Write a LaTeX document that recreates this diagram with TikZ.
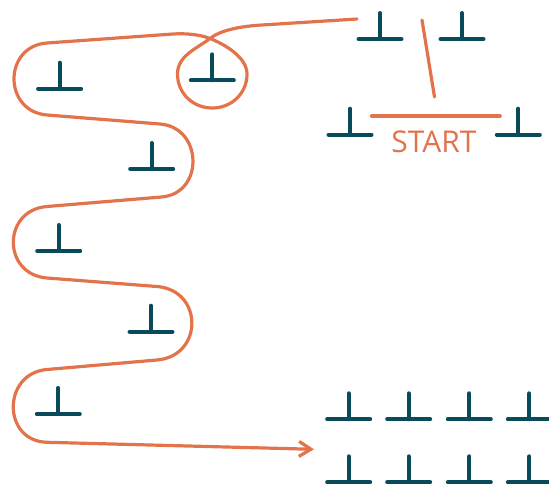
\documentclass[tikz,border=0pt]{standalone}
\usepackage{fontspec}
\setmainfont{Open Sans}
\usetikzlibrary{arrows.meta}
\definecolor{orng}{HTML}{E3734A}
\definecolor{tealdk}{HTML}{0A4B5B}
\begin{document}
\begin{tikzpicture}[x=1pt,y=-1pt,
  tackline/.style={tealdk, line width=4pt, line cap=round},
  tack/.pic={\draw[tackline] (-21.5,0) -- (21.5,0) (0,0) -- (0,-26);},
  route/.style={orng, line width=3.2pt, line cap=round, line join=round}]
\useasboundingbox (0,0) rectangle (549,484);
\clip (0,0) rectangle (549,484);
% up tacks
\pic at (380,39) {tack};
\pic at (462,39) {tack};
\pic at (350,134.7) {tack};
\pic at (518.3,134.7) {tack};
\pic at (59.6,88.7) {tack};
\pic at (212.3,80.3) {tack};
\pic at (151.7,169) {tack};
\pic at (58.7,251) {tack};
\pic at (151,331.7) {tack};
\pic at (58.3,414) {tack};
\foreach \x in {348.7,408.7,469.3,529.3}{
  \pic at (\x,419.3) {tack};
  \pic at (\x,482.3) {tack};
}
% start marker
\draw[route] (422,20) -- (434.5,97);
\draw[route] (371.5,116) -- (500.2,116);
\node[font=\fontsize{30}{30}\selectfont, text=orng, anchor=base, inner sep=0pt] (start) at (434,152.7) {START};
% route
\draw[route, -{Straight Barb[length=12pt,width=15pt]}]
  (357,19) -- (262,25)
  .. controls (245,26) and (222,29) .. (210,38.5)
  .. controls (196,49) and (177.5,56) .. (177.5,74)
  .. controls (177.5,93.5) and (193,108) .. (212.3,108)
  .. controls (231.5,108) and (247,93.5) .. (247,74)
  .. controls (247,57) and (224,44) .. (210,38.5)
  .. controls (200,34.5) and (186,33.2) .. (173,34)
  -- (47,43)
  .. controls (3,46.1) and (3,111.5) .. (47,115)
  -- (160,124)
  .. controls (203,127.4) and (204.4,193.5) .. (161.5,197)
  -- (47,206.5)
  .. controls (2.1,210.1) and (2.1,274.5) .. (47,278)
  -- (157,286.5)
  .. controls (203.5,290.2) and (203.5,356.1) .. (157,360)
  -- (47,369.5)
  .. controls (2,373.3) and (2,441.1) .. (47,442.3)
  -- (314,449.3);
\end{tikzpicture}
\end{document}
